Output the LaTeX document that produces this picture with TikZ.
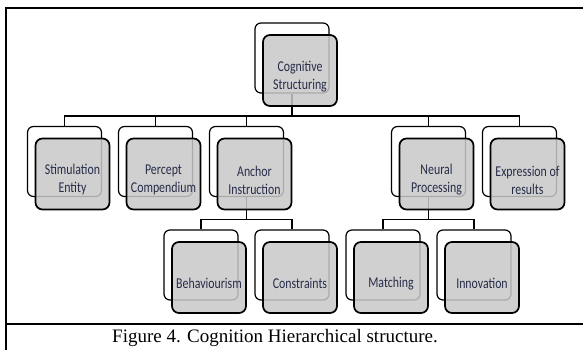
\documentclass[tikz,border=0pt]{standalone}
\usepackage{fontspec}
\setmainfont{Liberation Serif}
\newfontfamily\boxfont[FakeStretch=0.79]{Carlito}
\usetikzlibrary{trees}
\definecolor{boxgray}{RGB}{200,200,200}
\definecolor{boxtext}{RGB}{38,44,72}

\begin{document}
\begin{tikzpicture}[
        back/.style={draw, line width=1.2pt, rounded corners=6pt, fill=white, minimum width=74pt, minimum height=70pt},
        invis/.style={draw=none, fill=none},
        front/.style={draw, line width=1.7pt, rounded corners=7pt, fill=boxgray, fill opacity=0.85, draw opacity=1, minimum width=74pt, minimum height=71pt},
        boxlabel/.style={align=center, font=\boxfont\fontsize{15}{18}\selectfont, text=boxtext, yshift=-6pt},
        edge from parent/.style={draw, line width=1.2pt},
        edge from parent path={(\tikzparentnode.south) -- ++(0,-22.5pt) -| (\tikzchildnode.north)},
        level distance=103.5pt,
        sibling distance=91pt,
    ]
    \useasboundingbox (0,0) rectangle (583pt,-350pt);
    \node[back](cog) at (292pt,-58pt){}
    child{node[back](stim){}}
    child{node[back](perc){}}
    child{node[back](anch){}
        child{node[back](beha){}}
        child{node[back](cons){}}
    }
    child{node[invis](gap){} edge from parent [draw=none]}
    child{node[back](neur){}
        child{node[back](matc){}}
        child{node[back](inno){}}
    }
    child{node[back](expr){}}
    ;
    % gray boxes over the white ones
    \foreach \n/\t in {cog/{Cognitive\\Structuring}, stim/{Stimulation\\Entity}, perc/{Percept\\Compendium}, anch/{Anchor\\Instruction}, neur/{Neural\\Processing}, expr/{Expression of\\results}, beha/Behaviourism, cons/Constraints, matc/Matching, inno/Innovation}
        \node[front, label={[boxlabel]center:\t}](\n-f) at ([shift={(8pt,-12.5pt)}]\n.center){};
    % page rules and caption
    \draw[line width=1.5pt] (583pt,-8pt) -- (6pt,-8pt) -- (6pt,-350pt);
    \draw[line width=1.5pt] (6pt,-324pt) -- (583pt,-324pt);
    \node[anchor=base, font=\fontsize{19}{22}\selectfont](caption) at (275pt,-342pt){Figure 4. Cognition Hierarchical structure.};
\end{tikzpicture}
\end{document}
